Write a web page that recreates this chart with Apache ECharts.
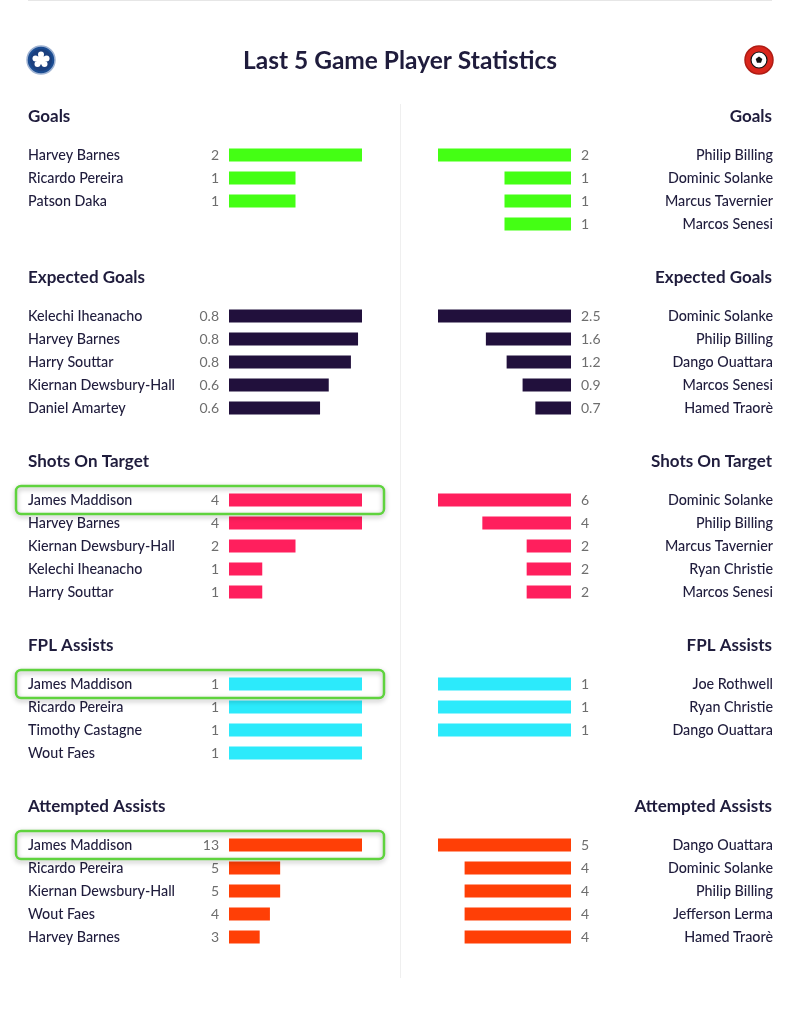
<!DOCTYPE html>
<html><head><meta charset="utf-8">
<script src="https://cdn.jsdelivr.net/npm/echarts@6/dist/echarts.min.js"></script>
<style>html,body{margin:0;padding:0;background:#fff}#c{width:800px;height:1017px}</style>
</head><body><div id="c"></div>
<script>
const chartTitle = 'Last 5 Game Player Statistics';
const sectionTitles = ['Goals', 'Expected Goals', 'Shots On Target', 'FPL Assists', 'Attempted Assists'];
const sectionDecimals = [0, 1, 0, 0, 0];
const sectionColors = ['#44ff14', '#21103c', '#ff1f5d', '#2ceafb', '#ff3f06'];

const homeGoalsPlayers = ['Harvey Barnes', 'Ricardo Pereira', 'Patson Daka'];
const homeGoalsValues = [2, 1, 1];
const awayGoalsPlayers = ['Philip Billing', 'Dominic Solanke', 'Marcus Tavernier', 'Marcos Senesi'];
const awayGoalsValues = [2, 1, 1, 1];

const homeXgPlayers = ['Kelechi Iheanacho', 'Harvey Barnes', 'Harry Souttar', 'Kiernan Dewsbury-Hall', 'Daniel Amartey'];
const homeXgValues = [0.84, 0.815, 0.77, 0.63, 0.575];
const awayXgPlayers = ['Dominic Solanke', 'Philip Billing', 'Dango Ouattara', 'Marcos Senesi', 'Hamed Traorè'];
const awayXgValues = [2.5, 1.6, 1.21, 0.91, 0.67];

const homeShotsPlayers = ['James Maddison', 'Harvey Barnes', 'Kiernan Dewsbury-Hall', 'Kelechi Iheanacho', 'Harry Souttar'];
const homeShotsValues = [4, 4, 2, 1, 1];
const awayShotsPlayers = ['Dominic Solanke', 'Philip Billing', 'Marcus Tavernier', 'Ryan Christie', 'Marcos Senesi'];
const awayShotsValues = [6, 4, 2, 2, 2];

const homeAssistsPlayers = ['James Maddison', 'Ricardo Pereira', 'Timothy Castagne', 'Wout Faes'];
const homeAssistsValues = [1, 1, 1, 1];
const awayAssistsPlayers = ['Joe Rothwell', 'Ryan Christie', 'Dango Ouattara'];
const awayAssistsValues = [1, 1, 1];

const homeAttemptedPlayers = ['James Maddison', 'Ricardo Pereira', 'Kiernan Dewsbury-Hall', 'Wout Faes', 'Harvey Barnes'];
const homeAttemptedValues = [13, 5, 5, 4, 3];
const awayAttemptedPlayers = ['Dango Ouattara', 'Dominic Solanke', 'Philip Billing', 'Jefferson Lerma', 'Hamed Traorè'];
const awayAttemptedValues = [5, 4, 4, 4, 4];

const highlightPlayer = 'James Maddison';
const highlightSections = [2, 3, 4];

const sections = [
  [homeGoalsPlayers, homeGoalsValues, awayGoalsPlayers, awayGoalsValues],
  [homeXgPlayers, homeXgValues, awayXgPlayers, awayXgValues],
  [homeShotsPlayers, homeShotsValues, awayShotsPlayers, awayShotsValues],
  [homeAssistsPlayers, homeAssistsValues, awayAssistsPlayers, awayAssistsValues],
  [homeAttemptedPlayers, homeAttemptedValues, awayAttemptedPlayers, awayAttemptedValues]
];

const FONT = 'Lato, "Noto Sans", sans-serif';
const NAVY = '#1f1c3c';
const rowH = 23;
const firstRow = [155, 316, 500, 684, 845];
const headerY = [117, 278, 462, 646, 807];

const chart = echarts.init(document.getElementById('c'));
const grid = [], xAxis = [], yAxis = [], series = [];

sections.forEach((sec, i) => {
  const sides = [
    {players: sec[0], values: sec[1], home: true},
    {players: sec[2], values: sec[3], home: false}
  ];
  sides.forEach(side => {
    const gi = grid.length;
    grid.push({
      left: side.home ? 229 : 438, width: 133,
      top: firstRow[i] - rowH / 2, height: side.players.length * rowH
    });
    xAxis.push({
      type: 'value', gridIndex: gi, min: 0, max: 'dataMax', show: false,
      inverse: !side.home
    });
    yAxis.push({
      type: 'category', gridIndex: gi, data: side.players, inverse: true,
      position: side.home ? 'left' : 'right',
      axisLine: {show: false}, axisTick: {show: false}, splitLine: {show: false},
      axisLabel: {
        align: side.home ? 'left' : 'right', margin: side.home ? 201 : 202,
        fontFamily: FONT, fontSize: 14.3, color: NAVY, fontWeight: 500
      }
    });
    series.push({
      type: 'bar', xAxisIndex: gi, yAxisIndex: gi, data: side.values,
      barWidth: 13, silent: true, animation: false,
      itemStyle: {color: sectionColors[i]},
      label: {
        show: true, position: side.home ? 'left' : 'right', distance: 10,
        fontFamily: FONT, fontSize: 14, color: '#6e6e6e',
        formatter: p => p.value.toFixed(sectionDecimals[i])
      }
    });
  });
});

const graphic = [];
graphic.push({type: 'line', id: 'topline', shape: {x1: 28, y1: 0.5, x2: 772, y2: 0.5}, style: {stroke: '#e6e6e6', lineWidth: 1}});
graphic.push({type: 'line', id: 'divider', shape: {x1: 400.5, y1: 104, x2: 400.5, y2: 978}, style: {stroke: '#efefef', lineWidth: 1}});
graphic.push({type: 'text', id: 'title', x: 400, y: 61, style: {text: chartTitle, textAlign: 'center', textVerticalAlign: 'middle', font: 'bold 24.5px ' + FONT, fill: NAVY}});
// home logo
graphic.push({type: 'circle', id: 'hl1', shape: {cx: 41, cy: 60, r: 14}, style: {fill: '#1b4c91', stroke: '#9fb3d3', lineWidth: 1.5}});
graphic.push({type: 'circle', id: 'hl2', shape: {cx: 41, cy: 60, r: 11}, style: {fill: '#1a3f7e'}});
graphic.push({type: 'circle', id: 'hl3', shape: {cx: 41, cy: 54.5, r: 3}, style: {fill: '#ffffff'}});
graphic.push({type: 'circle', id: 'hl4', shape: {cx: 46.5, cy: 58.5, r: 3}, style: {fill: '#ffffff'}});
graphic.push({type: 'circle', id: 'hl5', shape: {cx: 35.5, cy: 58.5, r: 3}, style: {fill: '#ffffff'}});
graphic.push({type: 'circle', id: 'hl6', shape: {cx: 44.5, cy: 64, r: 3}, style: {fill: '#ffffff'}});
graphic.push({type: 'circle', id: 'hl7', shape: {cx: 37.5, cy: 64, r: 3}, style: {fill: '#ffffff'}});
graphic.push({type: 'circle', id: 'hl8', shape: {cx: 41, cy: 60, r: 4.5}, style: {fill: '#ffffff'}});
// away logo
graphic.push({type: 'circle', id: 'al1', shape: {cx: 759, cy: 60, r: 14}, style: {fill: '#d9261c', stroke: '#b01c14', lineWidth: 1.5}});
graphic.push({type: 'circle', id: 'al2', shape: {cx: 759, cy: 60, r: 8}, style: {fill: '#ffffff', stroke: '#111', lineWidth: 1.2}});
graphic.push({type: 'polygon', id: 'al3', shape: {points: [[759, 56.5], [762.3, 58.9], [761, 62.8], [757, 62.8], [755.7, 58.9]]}, style: {fill: '#111'}});

sectionTitles.forEach((t, i) => {
  graphic.push({type: 'text', id: 'hL' + i, x: 28, y: headerY[i], style: {text: t, textAlign: 'left', textVerticalAlign: 'middle', font: 'bold 17px ' + FONT, fill: NAVY}});
  graphic.push({type: 'text', id: 'hR' + i, x: 772, y: headerY[i], style: {text: t, textAlign: 'right', textVerticalAlign: 'middle', font: 'bold 17px ' + FONT, fill: NAVY}});
});

chart.setOption({animation: false, grid, xAxis, yAxis, series, graphic});

const boxes = highlightSections.map(si => {
  const yc = chart.convertToPixel({yAxisIndex: si * 2}, highlightPlayer);
  return {
    type: 'rect', id: 'box' + si, z: 10,
    shape: {x: 16, y: yc - 14, width: 368, height: 28, r: 5},
    style: {fill: 'none', stroke: '#5fd33e', lineWidth: 2.5, shadowBlur: 5, shadowColor: 'rgba(0,0,0,0.3)', shadowOffsetY: 2}
  };
});
chart.setOption({graphic: graphic.concat(boxes)});
</script>
</body></html>
